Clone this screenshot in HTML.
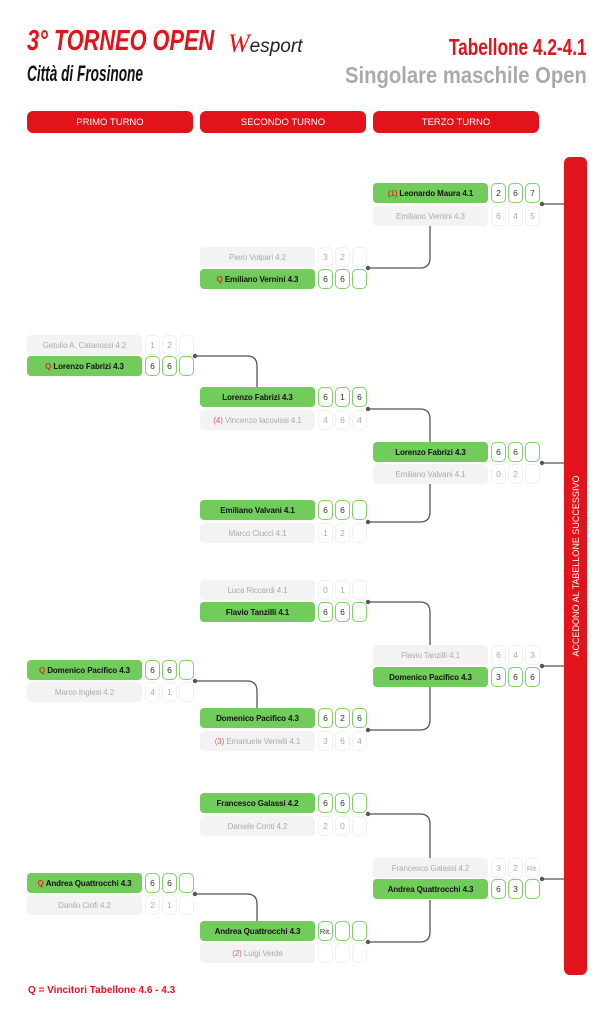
<!DOCTYPE html>
<html><head><meta charset="utf-8"><style>
*{margin:0;padding:0;box-sizing:border-box}
body{width:610px;height:1023px;background:#fff;position:relative;overflow:hidden;font-family:"Liberation Sans",sans-serif}
.a{position:absolute}
.n{position:absolute;width:115px;height:20px;border-radius:4px;display:flex;align-items:center;justify-content:center;font-size:8px;white-space:nowrap;letter-spacing:-0.1px}
.w{background:#72cc5c;color:#111;font-weight:bold}
.l{background:#f3f3f3;color:#aaa}
.s{position:absolute;width:15px;height:20px;border-radius:5px;display:flex;align-items:center;justify-content:center;font-size:8.5px}
.sw{border:1.3px solid #7fd066;color:#333;background:#fff}
.sl{border:1px solid #f0f0f0;color:#aaa;background:#fff}
.q{color:#d9361b}
.sd{color:#e06060}
.btn{position:absolute;top:111px;height:22px;width:166px;background:#e3131b;border-radius:6px;color:#fff;font-size:9.5px;display:flex;align-items:center;justify-content:center}
</style></head><body>
<div class="a" style="left:27px;top:25px;font-size:29px;font-weight:bold;font-style:italic;color:#e3131b;transform:scaleX(0.75);transform-origin:left;white-space:nowrap">3° TORNEO OPEN</div>
<div class="a" style="left:228px;top:29px;font-size:22px;white-space:nowrap"><span style="color:#e3131b;font-style:italic;font-family:'Liberation Serif',serif;font-size:26px">W</span><span style="color:#222;font-size:19px;font-style:italic">esport</span></div>
<div class="a" style="left:27px;top:61px;font-size:22px;font-weight:bold;font-style:italic;color:#111;transform:scaleX(0.62);transform-origin:left;white-space:nowrap">Città di Frosinone</div>
<div class="a" style="right:23px;top:34px;font-size:23px;font-weight:bold;color:#e3131b;transform:scaleX(0.75);transform-origin:right;white-space:nowrap">Tabellone 4.2-4.1</div>
<div class="a" style="right:23px;top:62px;font-size:23px;font-weight:bold;color:#aaa;transform:scaleX(0.88);transform-origin:right;white-space:nowrap">Singolare maschile Open</div>
<div class="btn" style="left:27px">PRIMO TURNO</div>
<div class="btn" style="left:200px">SECONDO TURNO</div>
<div class="btn" style="left:373px">TERZO TURNO</div>
<div class="a" style="left:564px;top:157px;width:23px;height:818px;background:#e3131b;border-radius:6px"></div>
<div class="a" style="left:575.5px;top:566px;transform:translate(-50%,-50%) rotate(-90deg);color:#fff;font-size:9px;white-space:nowrap">ACCEDONO AL TABELLONE SUCCESSIVO</div>
<svg class="a" style="left:0;top:0" width="610" height="1023">
<g fill="none" stroke="#555" stroke-width="1.3">
<path d="M368 268 H420 Q430 268 430 258 V225"/>
<path d="M195 356 H247 Q257 356 257 366 V387"/>
<path d="M368 409 H420 Q430 409 430 419 V442"/>
<path d="M368 522 H420 Q430 522 430 512 V484"/>
<path d="M368 602 H420 Q430 602 430 612 V646"/>
<path d="M195 681 H247 Q257 681 257 691 V709"/>
<path d="M368 730 H420 Q430 730 430 720 V687"/>
<path d="M368 814 H420 Q430 814 430 824 V858"/>
<path d="M195 894 H247 Q257 894 257 904 V921"/>
<path d="M368 942 H420 Q430 942 430 932 V900"/>
<path d="M542 204 H564 M542 463 H564 M542 666 H564 M542 879 H564"/>
</g>
<g fill="#555">
<circle cx="368" cy="268" r="2.2"/><circle cx="195" cy="356" r="2.2"/><circle cx="368" cy="409" r="2.2"/><circle cx="368" cy="522" r="2.2"/><circle cx="368" cy="602" r="2.2"/><circle cx="195" cy="681" r="2.2"/><circle cx="368" cy="730" r="2.2"/><circle cx="368" cy="814" r="2.2"/><circle cx="195" cy="894" r="2.2"/><circle cx="368" cy="942" r="2.2"/>
<circle cx="542" cy="204" r="2.2"/><circle cx="542" cy="463" r="2.2"/><circle cx="542" cy="666" r="2.2"/><circle cx="542" cy="879" r="2.2"/>
</g>
</svg>

<!-- COL1 -->
<div class="n l" style="left:27px;top:335px">Getulio A. Catanossi 4.2</div>
<div class="s sl" style="left:145px;top:335px">1</div><div class="s sl" style="left:162px;top:335px">2</div><div class="s sl" style="left:179px;top:335px"></div>
<div class="n w" style="left:27px;top:356px"><span class="q">Q</span>&nbsp;Lorenzo Fabrizi 4.3</div>
<div class="s sw" style="left:145px;top:356px">6</div><div class="s sw" style="left:162px;top:356px">6</div><div class="s sw" style="left:179px;top:356px"></div>

<div class="n w" style="left:27px;top:660px"><span class="q">Q</span>&nbsp;Domenico Pacifico 4.3</div>
<div class="s sw" style="left:145px;top:660px">6</div><div class="s sw" style="left:162px;top:660px">6</div><div class="s sw" style="left:179px;top:660px"></div>
<div class="n l" style="left:27px;top:682px">Marco Inglesi 4.2</div>
<div class="s sl" style="left:145px;top:682px">4</div><div class="s sl" style="left:162px;top:682px">1</div><div class="s sl" style="left:179px;top:682px"></div>

<div class="n w" style="left:27px;top:873px"><span class="q">Q</span>&nbsp;Andrea Quattrocchi 4.3</div>
<div class="s sw" style="left:145px;top:873px">6</div><div class="s sw" style="left:162px;top:873px">6</div><div class="s sw" style="left:179px;top:873px"></div>
<div class="n l" style="left:27px;top:895px">Danilo Ciofi 4.2</div>
<div class="s sl" style="left:145px;top:895px">2</div><div class="s sl" style="left:162px;top:895px">1</div><div class="s sl" style="left:179px;top:895px"></div>

<!-- COL2 -->
<div class="n l" style="left:200px;top:247px">Piero Volpari 4.2</div>
<div class="s sl" style="left:318px;top:247px">3</div><div class="s sl" style="left:335px;top:247px">2</div><div class="s sl" style="left:352px;top:247px"></div>
<div class="n w" style="left:200px;top:269px"><span class="q">Q</span>&nbsp;Emiliano Vernini 4.3</div>
<div class="s sw" style="left:318px;top:269px">6</div><div class="s sw" style="left:335px;top:269px">6</div><div class="s sw" style="left:352px;top:269px"></div>

<div class="n w" style="left:200px;top:387px">Lorenzo Fabrizi 4.3</div>
<div class="s sw" style="left:318px;top:387px">6</div><div class="s sw" style="left:335px;top:387px">1</div><div class="s sw" style="left:352px;top:387px">6</div>
<div class="n l" style="left:200px;top:410px"><span class="sd">(4)</span>&nbsp;Vincenzo Iacovissi 4.1</div>
<div class="s sl" style="left:318px;top:410px">4</div><div class="s sl" style="left:335px;top:410px">6</div><div class="s sl" style="left:352px;top:410px">4</div>

<div class="n w" style="left:200px;top:500px">Emiliano Valvani 4.1</div>
<div class="s sw" style="left:318px;top:500px">6</div><div class="s sw" style="left:335px;top:500px">6</div><div class="s sw" style="left:352px;top:500px"></div>
<div class="n l" style="left:200px;top:523px">Marco Ciucci 4.1</div>
<div class="s sl" style="left:318px;top:523px">1</div><div class="s sl" style="left:335px;top:523px">2</div><div class="s sl" style="left:352px;top:523px"></div>

<div class="n l" style="left:200px;top:580px">Luca Riccardi 4.1</div>
<div class="s sl" style="left:318px;top:580px">0</div><div class="s sl" style="left:335px;top:580px">1</div><div class="s sl" style="left:352px;top:580px"></div>
<div class="n w" style="left:200px;top:602px">Flavio Tanzilli 4.1</div>
<div class="s sw" style="left:318px;top:602px">6</div><div class="s sw" style="left:335px;top:602px">6</div><div class="s sw" style="left:352px;top:602px"></div>

<div class="n w" style="left:200px;top:708px">Domenico Pacifico 4.3</div>
<div class="s sw" style="left:318px;top:708px">6</div><div class="s sw" style="left:335px;top:708px">2</div><div class="s sw" style="left:352px;top:708px">6</div>
<div class="n l" style="left:200px;top:731px"><span class="sd">(3)</span>&nbsp;Emanuele Verrelli 4.1</div>
<div class="s sl" style="left:318px;top:731px">3</div><div class="s sl" style="left:335px;top:731px">6</div><div class="s sl" style="left:352px;top:731px">4</div>

<div class="n w" style="left:200px;top:793px">Francesco Galassi 4.2</div>
<div class="s sw" style="left:318px;top:793px">6</div><div class="s sw" style="left:335px;top:793px">6</div><div class="s sw" style="left:352px;top:793px"></div>
<div class="n l" style="left:200px;top:816px">Daniele Conti 4.2</div>
<div class="s sl" style="left:318px;top:816px">2</div><div class="s sl" style="left:335px;top:816px">0</div><div class="s sl" style="left:352px;top:816px"></div>

<div class="n w" style="left:200px;top:921px">Andrea Quattrocchi 4.3</div>
<div class="s sw" style="left:318px;top:921px;font-size:7.5px">Rit.</div><div class="s sw" style="left:335px;top:921px"></div><div class="s sw" style="left:352px;top:921px"></div>
<div class="n l" style="left:200px;top:943px"><span class="sd">(2)</span>&nbsp;Luigi Verde</div>
<div class="s sl" style="left:318px;top:943px"></div><div class="s sl" style="left:335px;top:943px"></div><div class="s sl" style="left:352px;top:943px"></div>

<!-- COL3 -->
<div class="n w" style="left:373px;top:183px"><span class="q">(1)</span>&nbsp;Leonardo Maura 4.1</div>
<div class="s sw" style="left:491px;top:183px">2</div><div class="s sw" style="left:508px;top:183px">6</div><div class="s sw" style="left:525px;top:183px">7</div>
<div class="n l" style="left:373px;top:206px">Emiliano Vernini 4.3</div>
<div class="s sl" style="left:491px;top:206px">6</div><div class="s sl" style="left:508px;top:206px">4</div><div class="s sl" style="left:525px;top:206px">5</div>

<div class="n w" style="left:373px;top:442px">Lorenzo Fabrizi 4.3</div>
<div class="s sw" style="left:491px;top:442px">6</div><div class="s sw" style="left:508px;top:442px">6</div><div class="s sw" style="left:525px;top:442px"></div>
<div class="n l" style="left:373px;top:464px">Emiliano Valvani 4.1</div>
<div class="s sl" style="left:491px;top:464px">0</div><div class="s sl" style="left:508px;top:464px">2</div><div class="s sl" style="left:525px;top:464px"></div>

<div class="n l" style="left:373px;top:645px">Flavio Tanzilli 4.1</div>
<div class="s sl" style="left:491px;top:645px">6</div><div class="s sl" style="left:508px;top:645px">4</div><div class="s sl" style="left:525px;top:645px">3</div>
<div class="n w" style="left:373px;top:667px">Domenico Pacifico 4.3</div>
<div class="s sw" style="left:491px;top:667px">3</div><div class="s sw" style="left:508px;top:667px">6</div><div class="s sw" style="left:525px;top:667px">6</div>

<div class="n l" style="left:373px;top:858px">Francesco Galassi 4.2</div>
<div class="s sl" style="left:491px;top:858px">3</div><div class="s sl" style="left:508px;top:858px">2</div><div class="s sl" style="left:525px;top:858px;font-size:7.5px">Rit.</div>
<div class="n w" style="left:373px;top:879px">Andrea Quattrocchi 4.3</div>
<div class="s sw" style="left:491px;top:879px">6</div><div class="s sw" style="left:508px;top:879px">3</div><div class="s sw" style="left:525px;top:879px"></div>

<div class="a" style="left:28px;top:985px;font-size:10px;font-weight:bold;color:#e3131b;white-space:nowrap">Q = Vincitori Tabellone 4.6 - 4.3</div>
</body></html>
